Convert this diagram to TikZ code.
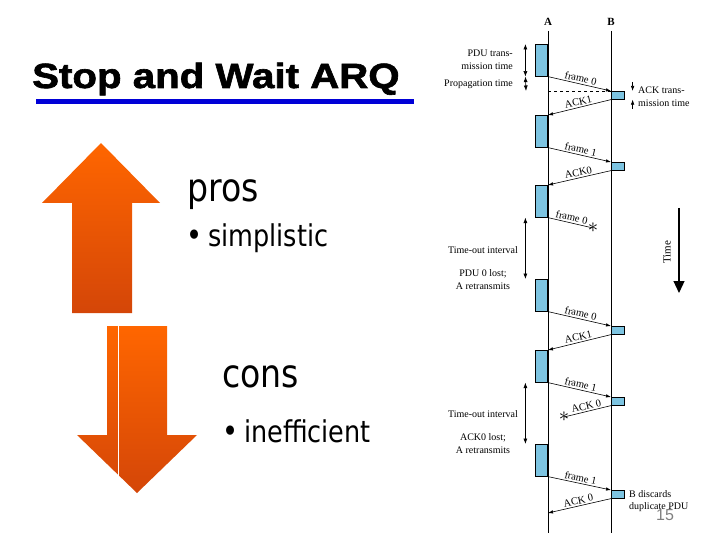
\documentclass[tikz,border=0pt]{standalone}
\usepackage{fontspec}
\setmainfont{Liberation Serif}
\newfontfamily\titlefont{Liberation Sans}[FakeStretch=1.15, BoldFeatures={FakeBold=1.8}]
\newfontfamily\slidefont{DejaVu Sans}[FakeStretch=0.85]
\newfontfamily\numfont{Liberation Sans}
\usetikzlibrary{arrows.meta, positioning, calc}
\definecolor{pdublue}{RGB}{125,196,225}
\definecolor{arrowtop}{RGB}{255,102,0}
\definecolor{arrowbot}{RGB}{212,70,8}
\definecolor{titleblue}{RGB}{0,0,215}

\begin{document}
\begin{tikzpicture}[
    x=1pt, y=-1pt,
    every node/.style={inner sep=0pt},
    pdu/.style={draw=black, line width=0.6pt, fill=pdublue, minimum width=12pt, minimum height=32pt, anchor=north east},
    ackbox/.style={draw=black, line width=0.6pt, fill=pdublue, minimum width=13pt, minimum height=8pt, anchor=north west},
    msg/.style={-{Latex[length=5pt,width=3.5pt]}, line width=0.6pt},
    lbl/.style={font=\fontsize{10.5}{10.5}\selectfont, midway, sloped, above=1.5pt},
    note/.style={font=\fontsize{10}{13}\selectfont, align=center},
    span/.style={{Latex[length=5.5pt,width=4pt]}-{Latex[length=5.5pt,width=4pt]}, line width=0.6pt},
    bigarrow/.style={top color=arrowtop, bottom color=arrowbot, draw=none},
    heading/.style={anchor=base west, font=\slidefont\fontsize{39}{39}\selectfont},
    item/.style={anchor=base west, font=\slidefont\fontsize{30}{30}\selectfont},
    dot/.style={anchor=base east, font=\slidefont\fontsize{32}{32}\selectfont},
    lostmark/.style={font=\fontsize{20}{20}\selectfont}
]
\useasboundingbox (0,0) rectangle (720,540);

% Title
\node[anchor=base west, font=\titlefont\bfseries\fontsize{35}{35}\selectfont] (title) at (32,88) {Stop and Wait ARQ};
\draw[titleblue, line width=5pt] (36,102) -- (414,102);

% Pros and cons arrows
\shade[bigarrow] (101,143) -- (160,203) -- (132,203) -- (132,313) -- (72,313) -- (72,203) -- (42,203) -- cycle;
\shade[bigarrow] (107,326) -- (167,326) -- (167,435) -- (197,435) -- (137,493) -- (77,435) -- (107,435) -- cycle;
\draw[white, line width=1pt] (118,326) -- (118,477);

% Pros and cons text
\node[heading] (pros) at (187,202) {pros};
\node[item] (simp) at ([xshift=21pt, yshift=-45pt]pros.base west) {simplistic};
\node[dot] (bul1) at ([xshift=-5pt]simp.base west) {\textbullet};
\node[heading] (cons) at (222,387) {cons};
\node[item] (ineff) at ([xshift=22pt, yshift=-55pt]cons.base west) {inefficient};
\node[dot] (bul2) at ([xshift=-5pt]ineff.base west) {\textbullet};

% Timelines
\node[font=\bfseries\fontsize{11}{11}\selectfont] (A) at (548,22) {A};
\node[font=\bfseries\fontsize{11}{11}\selectfont] (B) at (611,22) {B};
\coordinate (bottom) at (0,533);
\draw[line width=0.8pt] ([yshift=-5pt]A.south) -- (A.south |- bottom);
\draw[line width=0.8pt] ([yshift=-5pt]B.south) -- (B.south |- bottom);

% PDUs at A
\node[pdu] (a1) at (548,44) {};
\node[pdu] (a2) at (548,115) {};
\node[pdu] (a3) at (548,185) {};
\node[pdu] (a4) at (548,279) {};
\node[pdu] (a5) at (548,350) {};
\node[pdu] (a6) at (548,444) {};
\coordinate (a7) at (548,513);

% ACKs at B
\node[ackbox] (b1) at (611,91) {};
\node[ackbox] (b2) at (611,162) {};
\node[ackbox] (b3) at (611,326) {};
\node[ackbox] (b4) at (611,397) {};
\node[ackbox] (b5) at (611,490) {};

% Lost messages
\node[lostmark] (lost1) at (593,228) {$\ast$};
\node[lostmark] (lost2) at (564,417) {$\ast$};

% Messages
\draw[msg] (a1.south east) -- node[lbl] {frame 0} (b1.north west);
\draw[msg] (b1.south west) -- node[lbl] {ACK1} (a2.north east);
\draw[msg] (a2.south east) -- node[lbl] {frame 1} (b2.north west);
\draw[msg] (b2.south west) -- node[lbl] {ACK0} (a3.north east);
\draw[line width=0.6pt] (a3.south east) -- node[lbl] {frame 0} (lost1.center);
\draw[msg] (a4.south east) -- node[lbl] {frame 0} (b3.north west);
\draw[msg] (b3.south west) -- node[lbl] {ACK1} (a5.north east);
\draw[msg] (a5.south east) -- node[lbl] {frame 1} (b4.north west);
\draw[line width=0.6pt] (b4.south west) -- node[lbl] {ACK 0} (lost2.center);
\draw[msg] (a6.south east) -- node[lbl] {frame 1} (b5.north west);
\draw[msg] (b5.south west) -- node[lbl] {ACK 0} (a7);

% Timing annotations
\coordinate (p0) at (548,91);
\draw[dashed, line width=0.5pt] (p0) -- (b1.north west);
\draw[span] ([xshift=-10pt]a1.north west) -- ([xshift=-10pt]a1.south west);
\draw[span] ([xshift=-10pt]a1.south west) -- ([xshift=-22pt]p0);
\node[note, align=right, anchor=east] (ptt) at (513,60) {PDU trans-\\mission time};
\node[note, anchor=east] (prop) at (513,84) {Propagation time};
\draw[msg] ([xshift=8pt, yshift=9pt]b1.north east) -- ([xshift=8pt]b1.north east);
\draw[msg] ([xshift=8pt, yshift=-9pt]b1.south east) -- ([xshift=8pt]b1.south east);
\node[note, align=left, anchor=west] (att) at (638,97) {ACK trans-\\mission time};

\draw[span] ([xshift=-10pt]a3.south west) -- ([xshift=-10pt]a4.north west);
\node[note] (to1) at (483,250) {Time-out interval};
\node[note] (lost1txt) at (483,280) {PDU 0 lost;\\A retransmits};
\draw[span] ([xshift=-10pt]a5.south west) -- ([xshift=-10pt]a6.north west);
\node[note] (to2) at (483,414) {Time-out interval};
\node[note] (lost2txt) at (483,444) {ACK0 lost;\\A retransmits};
\node[note, align=left, anchor=west, font=\fontsize{10}{12.5}\selectfont] (disc) at (629,501) {B discards\\duplicate PDU};

% Time axis
\coordinate (tt) at (679,208);
\coordinate (tb) at (679,293);
\draw[line width=1.2pt, -{Triangle[width=11pt,length=12pt]}] (tt) -- (tb);
\node[note, rotate=90, font=\fontsize{11}{11}\selectfont] (time) at (667,252) {Time};

% Slide number
\node[font=\numfont\fontsize{16}{16}\selectfont, text=gray] (num) at (665,515) {15};

\end{tikzpicture}
\end{document}
